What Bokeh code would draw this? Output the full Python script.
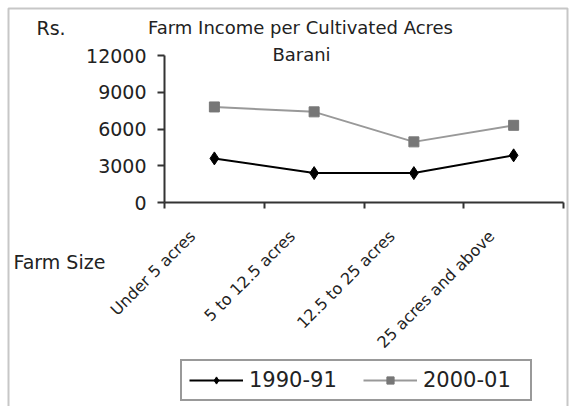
from bokeh.plotting import figure
from bokeh.models import (Range1d, FixedTicker, Label, Legend, LegendItem, BoxAnnotation)
from bokeh.embed import file_html
from bokeh.resources import INLINE

categories = ["Under 5 acres", "5 to 12.5 acres", "12.5 to 25 acres", "25 acres and above"]
income_1990 = [3600, 2400, 2400, 3850]
income_2000 = [7800, 7400, 4950, 6300]
y_ticks = [0, 3000, 6000, 9000, 12000]
Y_MAX = 12000

FONT = "DejaVu Sans"
W, H = 574, 406
FL, FR, FT, FB = 164, 563, 55, 202  # plot-area edges in canvas px

n = len(categories)
xs = [i + 0.5 for i in range(n)]

# the frame covers the whole canvas; axes are pinned with fixed_location
ppx = (FR - FL) / n
ppy = (FB - FT) / Y_MAX
x_range = Range1d(-FL / ppx, n + (W - FR) / ppx)
y_range = Range1d(-(H - FB) / ppy, Y_MAX + FT / ppy)

p = figure(width=W, height=H, output_backend="svg", toolbar_location=None,
           x_range=x_range, y_range=y_range,
           min_border_left=0, min_border_right=0, min_border_top=0, min_border_bottom=0)
p.outline_line_color = None
p.xgrid.grid_line_color = None
p.ygrid.grid_line_color = None
p.background_fill_color = "white"
p.border_fill_color = "white"

# y axis
ya = p.yaxis[0]
ya.fixed_location = 0
ya.bounds = (0, Y_MAX)
ya.ticker = FixedTicker(ticks=y_ticks)
ya.axis_line_color = "#333333"
ya.axis_line_width = 2
ya.major_tick_line_color = "#333333"
ya.major_tick_line_width = 2
ya.major_tick_out = 7
ya.major_tick_in = 0
ya.minor_tick_line_color = None
ya.major_label_text_font = FONT
ya.major_label_text_font_size = "19px"
ya.major_label_text_color = "#222222"
ya.major_label_standoff = 11

# x axis: labels at shifted major ticks (hidden), boundary ticks as minor ticks
xa = p.xaxis[0]
xa.fixed_location = 0
xa.bounds = (0, n)
label_pos = [x - 0.22 for x in xs]
xa.ticker = FixedTicker(ticks=label_pos, minor_ticks=list(range(n + 1)))
xa.major_label_overrides = {lp: c for lp, c in zip(label_pos, categories)}
xa.major_label_orientation = 0.785398
xa.major_tick_line_color = None
xa.major_tick_out = 0
xa.major_tick_in = 0
xa.minor_tick_line_color = "#333333"
xa.minor_tick_line_width = 2
xa.minor_tick_out = 6
xa.minor_tick_in = 0
xa.axis_line_color = "#333333"
xa.axis_line_width = 2
xa.major_label_text_font = FONT
xa.major_label_text_font_size = "16px"
xa.major_label_text_color = "#222222"
xa.major_label_standoff = 25

# series
l1 = p.line(xs, income_1990, line_color="black", line_width=2)
s1 = p.scatter(xs, income_1990, marker="diamond", size=13, fill_color="black", line_color="black")
l2 = p.line(xs, income_2000, line_color="#999999", line_width=2)
s2 = p.scatter(xs, income_2000, marker="square", size=10, fill_color="#777777", line_color="#777777")

legend = Legend(items=[LegendItem(label="1990-91", renderers=[l1, s1]),
                       LegendItem(label="2000-01", renderers=[l2, s2])],
                orientation="horizontal", location=(180, H - 401))
legend.label_text_font = FONT
legend.label_text_font_size = "21px"
legend.label_text_color = "#222222"
legend.glyph_width = 54
legend.glyph_height = 18
legend.label_width = 100
legend.label_standoff = 6
legend.spacing = 14
legend.padding = 7
legend.margin = 0
legend.border_line_color = "#333333"
legend.border_line_width = 2
legend.background_fill_color = "white"
legend.background_fill_alpha = 1
p.add_layout(legend, "center")

def add_text(txt, cx, cy, size, align="center"):
    lab = Label(x=cx, y=H - cy, x_units="screen", y_units="screen", text=txt,
                text_font=FONT, text_font_size=size, text_color="#222222",
                text_align=align, text_baseline="middle")
    p.add_layout(lab)

add_text("Rs.", 36, 27, "19px", "left")
add_text("Farm Income per Cultivated Acres", 300, 27, "18px")
add_text("Barani", 301, 54, "18px")
add_text("Farm Size", 13, 261, "19px", "left")

# outer frame
box = BoxAnnotation(left=8, right=567, top=H - 8, bottom=-20,
                    left_units="screen", right_units="screen", top_units="screen", bottom_units="screen",
                    fill_alpha=0, line_color="#444444", line_width=2)
p.add_layout(box)

open("out.html", "w").write(file_html(p, INLINE))
